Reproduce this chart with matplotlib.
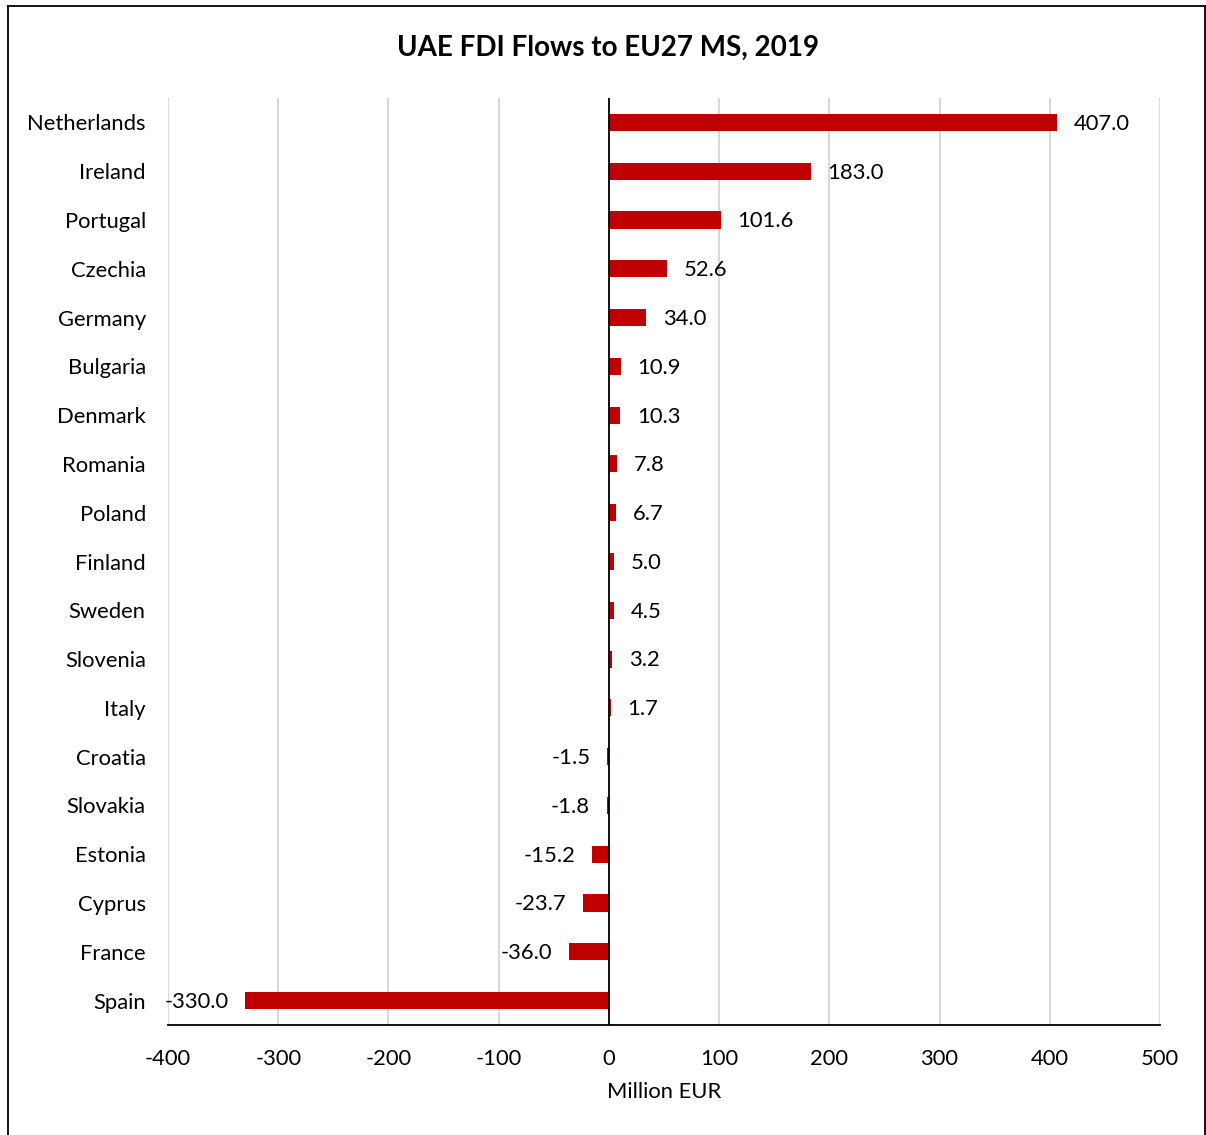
import matplotlib
matplotlib.use("Agg")
import matplotlib.pyplot as plt
from matplotlib.lines import Line2D

countries = ["Netherlands", "Ireland", "Portugal", "Czechia", "Germany", "Bulgaria",
             "Denmark", "Romania", "Poland", "Finland", "Sweden", "Slovenia", "Italy",
             "Croatia", "Slovakia", "Estonia", "Cyprus", "France", "Spain"]
values = [407.0, 183.0, 101.6, 52.6, 34.0, 10.9, 10.3, 7.8, 6.7, 5.0, 4.5, 3.2, 1.7,
          -1.5, -1.8, -15.2, -23.7, -36.0, -330.0]
xticks = [-400, -300, -200, -100, 0, 100, 200, 300, 400, 500]

plt.rcParams['font.family'] = ['Lato', 'DejaVu Sans']

W, H = 1206, 1135
FS = 15.8
fig = plt.figure(figsize=(W / 100, H / 100), dpi=100)
ax = fig.add_axes([168 / W, 1 - 1025 / H, (1160 - 168) / W, (1025 - 98) / H])

n = len(countries)
ypos = list(range(n))
ax.barh(ypos, values, height=0.35, color="#C00000", zorder=3)
ax.set_ylim(n - 0.5, -0.5)
ax.set_xlim(-400, 500)
ax.set_xticks(xticks)
ax.set_xticklabels([str(t) for t in xticks], fontsize=FS)
ax.set_yticks(ypos)
ax.set_yticklabels(countries, fontsize=FS)
ax.tick_params(axis='both', length=0, colors="#000000")
ax.tick_params(axis='y', pad=16)
ax.tick_params(axis='x', pad=17)
ax.xaxis.grid(True, color="#D9D9D9", linewidth=1.5, zorder=0)
ax.yaxis.grid(False)
for s in ["top", "right", "left"]:
    ax.spines[s].set_visible(False)
ax.spines["bottom"].set_color("black")
ax.spines["bottom"].set_linewidth(1.3)
ax.axvline(0, color="black", linewidth=1.3, zorder=4)

for y, v in zip(ypos, values):
    if v >= 0:
        ax.annotate(f"{v:.1f}", (v, y), xytext=(12, -1), textcoords="offset points",
                    ha="left", va="center", fontsize=FS)
    else:
        ax.annotate(f"{v:.1f}", (v, y), xytext=(-12, -1), textcoords="offset points",
                    ha="right", va="center", fontsize=FS)

ax.set_xlabel("Million EUR", fontsize=FS, labelpad=10)
fig.text(608 / W, 1 - 48 / H, "UAE FDI Flows to EU27 MS, 2019", ha="center", va="center",
         fontsize=20, fontweight="bold")

# figure border
fig.add_artist(Line2D([8 / W, 8 / W], [0, 1 - 6 / H], transform=fig.transFigure, color="black", linewidth=1.3))
fig.add_artist(Line2D([8 / W, 1205 / W], [1 - 6 / H, 1 - 6 / H], transform=fig.transFigure, color="black", linewidth=1.3))
fig.add_artist(Line2D([1205 / W, 1205 / W], [0, 1 - 6 / H], transform=fig.transFigure, color="black", linewidth=1.3))

fig.savefig("out.png", dpi=100)
